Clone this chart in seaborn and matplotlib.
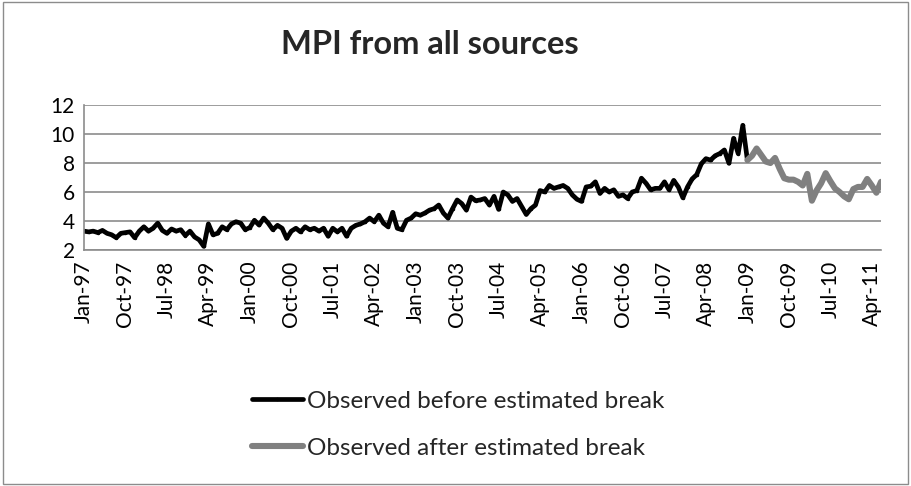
import matplotlib
matplotlib.use("Agg")
import matplotlib.pyplot as plt
import seaborn as sns
import pandas as pd
import numpy as np
from matplotlib.patches import Rectangle

# ---- data ----
before_values = [
    3.30, 3.25, 3.30, 3.20, 3.35, 3.15, 3.05, 2.85, 3.15, 3.20, 3.25, 2.85,  # 1997
    3.30, 3.60, 3.30, 3.50, 3.85, 3.35, 3.15, 3.45, 3.30, 3.40, 3.00, 3.30,  # 1998
    2.90, 2.70, 2.25, 3.80, 3.05, 3.15, 3.60, 3.40, 3.80, 3.95, 3.85, 3.40,  # 1999
    3.55, 4.05, 3.72, 4.20, 3.85, 3.40, 3.70, 3.50, 2.80, 3.30, 3.50, 3.25,  # 2000
    3.60, 3.40, 3.50, 3.30, 3.50, 2.95, 3.50, 3.25, 3.50, 2.95, 3.50, 3.70,  # 2001
    3.80, 3.95, 4.20, 3.95, 4.40, 3.85, 3.60, 4.60, 3.50, 3.40, 4.05, 4.20,  # 2002
    4.50, 4.40, 4.55, 4.75, 4.85, 5.10, 4.55, 4.20, 4.85, 5.45, 5.20, 4.75,  # 2003
    5.65, 5.40, 5.45, 5.55, 5.10, 5.70, 4.80, 6.00, 5.80, 5.35, 5.55, 5.00,  # 2004
    4.45, 4.85, 5.10, 6.10, 6.00, 6.45, 6.25, 6.35, 6.45, 6.25, 5.80, 5.50,  # 2005
    5.35, 6.35, 6.40, 6.70, 5.90, 6.25, 6.00, 6.15, 5.70, 5.80, 5.55, 6.00,  # 2006
    6.10, 6.95, 6.60, 6.15, 6.25, 6.25, 6.70, 6.15, 6.80, 6.35, 5.60, 6.35,  # 2007
    6.90, 7.20, 7.95, 8.30, 8.20, 8.50, 8.65, 8.90, 7.98, 9.70, 8.65, 10.60,  # 2008
    8.20,                                                                    # Jan-09
]
after_values = [
    8.20, 8.50, 9.00, 8.55, 8.10, 8.00, 8.35, 7.60, 6.95, 6.85, 6.85, 6.70,  # 2009
    6.45, 7.25, 5.40, 6.10, 6.60, 7.30, 6.75, 6.25, 6.00, 5.70, 5.50, 6.20,  # 2010
    6.35, 6.35, 6.90, 6.45, 5.95, 6.70,                                      # 2011
]
break_index = 144  # Jan-09: first month of the "after" series

tick_labels = ["Jan-97", "Oct-97", "Jul-98", "Apr-99", "Jan-00", "Oct-00",
               "Jul-01", "Apr-02", "Jan-03", "Oct-03", "Jul-04", "Apr-05",
               "Jan-06", "Oct-06", "Jul-07", "Apr-08", "Jan-09", "Oct-09",
               "Jul-10", "Apr-11"]
y_ticks = [2, 4, 6, 8, 10, 12]

label_before = "Observed before estimated break"
label_after = "Observed after estimated break"

n_total = break_index + len(after_values)
df_before = pd.DataFrame({"month": np.arange(len(before_values)),
                          "MPI": before_values})
df_after = pd.DataFrame({"month": np.arange(break_index, n_total),
                         "MPI": after_values})

# ---- style ----
sns.set_style("white")
plt.rcParams["font.family"] = ["Lato", "DejaVu Sans"]

fig = plt.figure(figsize=(9.11, 4.86), dpi=100)
ax = fig.add_axes([84 / 911, 1 - 250 / 486, (881 - 84) / 911, (250 - 105) / 486])

sns.lineplot(data=df_before, x="month", y="MPI", ax=ax, color="black",
             linewidth=3.4, marker="o", markersize=2.5, markeredgewidth=0,
             label=label_before, legend=False)
sns.lineplot(data=df_after, x="month", y="MPI", ax=ax, color="#808080",
             linewidth=4.4, label=label_after, legend=False)

ax.set_xlim(0, n_total - 1)
ax.set_ylim(2, 12)
ax.set_yticks(y_ticks)
ax.set_yticklabels([str(v) for v in y_ticks])
ax.set_xticks(np.arange(0, n_total, 9)[:len(tick_labels)])
ax.set_xticklabels(tick_labels, rotation=90)
ax.set_xlabel("")
ax.set_ylabel("")

ax.yaxis.grid(True, color="#8c8c8c", linewidth=1.2)
ax.xaxis.grid(False)
ax.set_axisbelow(True)

for side in ["top", "right"]:
    ax.spines[side].set_visible(False)
for side in ["left", "bottom"]:
    ax.spines[side].set_visible(True)
    ax.spines[side].set_color("#8c8c8c")
    ax.spines[side].set_linewidth(1.2)

ax.tick_params(axis="both", which="major", direction="out", length=4.5,
               width=1.2, color="#8c8c8c", labelsize=15, labelcolor="black",
               pad=2)
ax.tick_params(axis="x", pad=3)

fig.text(0.472, 1 - 45 / 486, "MPI from all sources", ha="center",
         va="center", fontsize=23.5, fontweight="bold")

handles, labels = ax.get_legend_handles_labels()
fig.legend(handles, labels, loc="center", bbox_to_anchor=(0.503, 0.126),
           frameon=False, fontsize=17.5, handlelength=2.1, handletextpad=0.2,
           labelspacing=1.05)

fig.patches.append(Rectangle((0.003, 0.004), 0.994, 0.991,
                             transform=fig.transFigure, fill=False,
                             edgecolor="#8c8c8c", linewidth=1.0))

fig.savefig("out.png", dpi=100)
